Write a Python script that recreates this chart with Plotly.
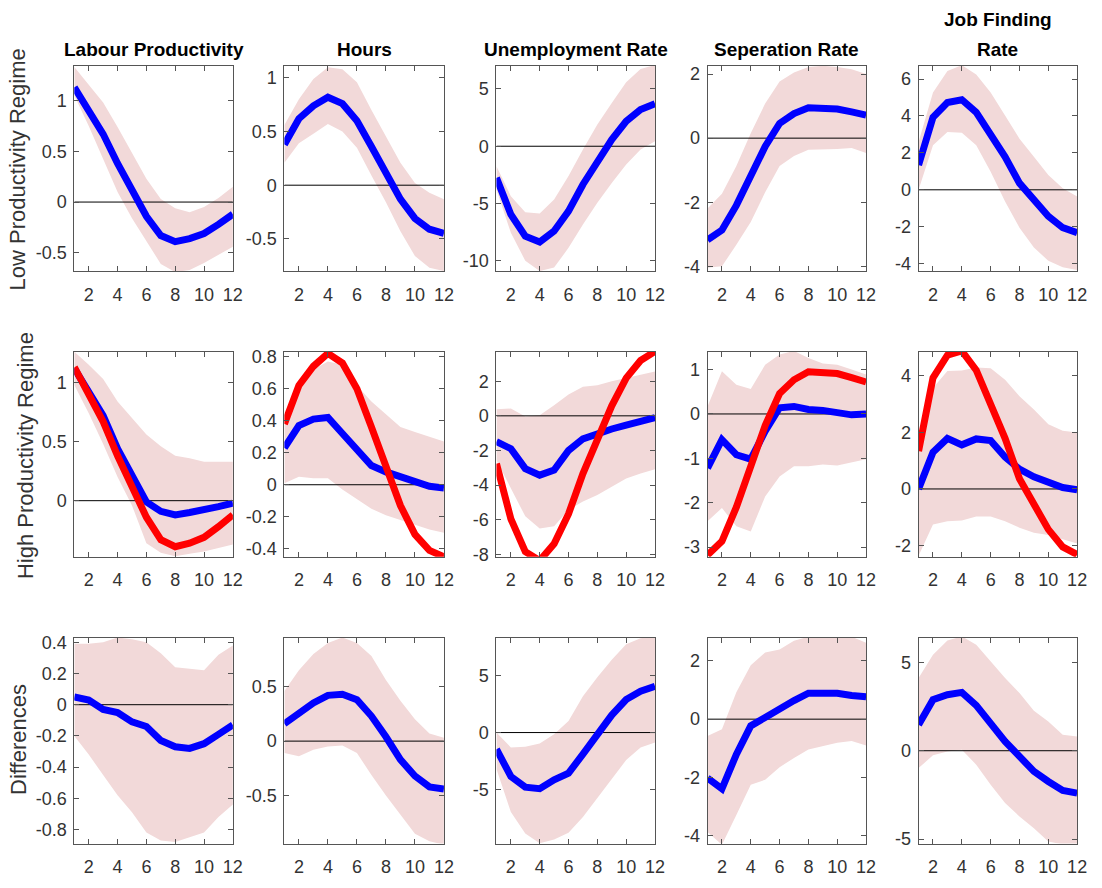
import plotly.graph_objects as go

# ---------------- data ----------------
periods = list(range(1, 13))
xtick_vals = [2, 4, 6, 8, 10, 12]

col_titles = ["Labour Productivity", "Hours", "Unemployment Rate", "Seperation Rate", "Job Finding<br>Rate"]
row_labels = ["Low Productivity Regime", "High Productivity Regime", "Differences"]

# Low productivity regime (row 1, also red overlay in row 2)
low_lp = [1.13, 0.91, 0.67, 0.38, 0.13, -0.14, -0.33, -0.39, -0.36, -0.31, -0.22, -0.12]
low_lp_hi = [1.33, 1.16, 0.98, 0.74, 0.49, 0.23, 0.03, -0.06, -0.10, -0.05, 0.04, 0.15]
low_lp_lo = [1.05, 0.75, 0.42, 0.10, -0.16, -0.39, -0.61, -0.69, -0.67, -0.60, -0.52, -0.44]

low_hours = [0.38, 0.62, 0.74, 0.82, 0.76, 0.60, 0.36, 0.12, -0.13, -0.31, -0.41, -0.45]
low_hours_hi = [0.56, 0.80, 0.99, 1.10, 1.08, 0.96, 0.70, 0.45, 0.21, 0.02, -0.07, -0.13]
low_hours_lo = [0.21, 0.39, 0.48, 0.57, 0.50, 0.35, 0.09, -0.16, -0.43, -0.66, -0.77, -0.80]

low_unemp = [-2.76, -5.96, -7.85, -8.37, -7.40, -5.67, -3.34, -1.40, 0.58, 2.18, 3.20, 3.72]
low_unemp_hi = [-1.74, -4.36, -5.76, -5.87, -4.65, -2.60, -0.29, 1.89, 3.78, 5.58, 6.74, 7.10]
low_unemp_lo = [-3.78, -7.56, -10.0, -10.9, -10.6, -8.87, -6.83, -4.94, -3.20, -1.60, -0.29, 0.44]

low_sep = [-3.18, -2.87, -2.10, -1.18, -0.26, 0.46, 0.77, 0.95, 0.94, 0.91, 0.82, 0.72]
low_sep_hi = [-2.20, -1.74, -0.87, 0.15, 1.08, 1.77, 2.05, 2.22, 2.26, 2.22, 2.15, 2.00]
low_sep_lo = [-4.05, -4.00, -3.33, -2.62, -1.69, -0.87, -0.56, -0.36, -0.34, -0.34, -0.31, -0.46]

low_jfr = [1.34, 3.93, 4.73, 4.88, 4.20, 3.04, 1.79, 0.36, -0.59, -1.43, -2.05, -2.32]
low_jfr_hi = [2.59, 5.27, 6.43, 6.75, 6.25, 5.27, 4.02, 2.77, 1.79, 0.80, 0.09, -0.36]
low_jfr_lo = [0.00, 2.41, 3.13, 3.09, 2.41, 0.98, -0.63, -2.05, -3.13, -3.84, -4.20, -4.34]

# High productivity regime (row 2)
high_lp = [1.12, 0.92, 0.72, 0.44, 0.22, -0.01, -0.09, -0.12, -0.10, -0.08, -0.05, -0.02]
high_lp_hi = [1.26, 1.15, 1.03, 0.84, 0.70, 0.56, 0.46, 0.38, 0.36, 0.33, 0.33, 0.33]
high_lp_lo = [0.98, 0.74, 0.48, 0.20, -0.04, -0.36, -0.44, -0.47, -0.45, -0.43, -0.40, -0.37]

high_hours = [0.23, 0.37, 0.41, 0.42, 0.32, 0.22, 0.12, 0.08, 0.05, 0.02, -0.01, -0.02]
high_hours_hi = [0.39, 0.59, 0.72, 0.77, 0.75, 0.62, 0.52, 0.44, 0.36, 0.33, 0.30, 0.27]
high_hours_lo = [0.01, 0.05, 0.04, 0.04, -0.03, -0.09, -0.15, -0.19, -0.22, -0.25, -0.28, -0.30]

high_unemp = [-1.49, -1.90, -3.05, -3.43, -3.14, -2.00, -1.33, -1.01, -0.76, -0.53, -0.34, -0.10]
high_unemp_hi = [0.38, 0.42, -0.04, 0.04, 0.61, 1.24, 1.68, 1.77, 2.00, 2.19, 2.38, 2.57]
high_unemp_lo = [-2.57, -4.19, -5.81, -6.51, -6.38, -5.43, -4.95, -4.57, -4.10, -3.62, -3.33, -3.09]

high_sep = [-1.22, -0.58, -0.92, -1.02, -0.39, 0.14, 0.17, 0.10, 0.08, 0.02, -0.02, 0.00]
high_sep_hi = [0.17, 0.96, 0.66, 0.56, 1.11, 1.34, 1.42, 1.26, 1.14, 1.11, 1.00, 0.89]
high_sep_lo = [-2.42, -2.12, -2.53, -2.65, -1.86, -1.41, -1.18, -1.18, -1.14, -1.16, -1.09, -1.02]

high_jfr = [0.00, 1.30, 1.79, 1.56, 1.77, 1.71, 1.13, 0.70, 0.43, 0.22, 0.05, -0.03]
high_jfr_hi = [1.50, 3.57, 4.17, 4.19, 4.30, 4.27, 3.86, 3.28, 2.81, 2.29, 2.06, 2.00]
high_jfr_lo = [-2.36, -1.26, -1.14, -1.12, -0.97, -0.97, -1.14, -1.37, -1.55, -1.63, -1.78, -1.93]

# Differences (row 3)
diff_lp = [0.05, 0.03, -0.03, -0.05, -0.11, -0.14, -0.23, -0.27, -0.28, -0.25, -0.19, -0.13]
diff_lp_hi = [0.39, 0.39, 0.40, 0.43, 0.42, 0.40, 0.33, 0.24, 0.23, 0.22, 0.32, 0.38]
diff_lp_lo = [-0.20, -0.32, -0.45, -0.58, -0.69, -0.82, -0.87, -0.88, -0.85, -0.82, -0.72, -0.64]

diff_hours = [0.16, 0.25, 0.35, 0.42, 0.43, 0.38, 0.23, 0.04, -0.17, -0.32, -0.42, -0.44]
diff_hours_hi = [0.46, 0.65, 0.80, 0.90, 0.95, 0.90, 0.78, 0.56, 0.37, 0.20, 0.07, 0.03]
diff_hours_lo = [-0.11, -0.14, -0.08, -0.05, -0.04, -0.11, -0.31, -0.50, -0.68, -0.85, -0.92, -0.95]

diff_unemp = [-1.45, -3.84, -4.77, -4.91, -4.13, -3.55, -1.88, -0.09, 1.53, 2.89, 3.61, 4.05]
diff_unemp_hi = [0.00, -1.30, -1.24, -0.95, -0.14, 1.01, 3.18, 4.83, 6.36, 7.72, 8.24, 8.40]
diff_unemp_lo = [-3.18, -6.94, -8.82, -9.68, -9.34, -8.76, -7.37, -5.64, -4.05, -2.40, -1.30, -0.87]

diff_sep = [-2.02, -2.39, -1.21, -0.23, 0.06, 0.38, 0.64, 0.89, 0.89, 0.89, 0.81, 0.77]
diff_sep_hi = [-0.58, -0.35, 0.92, 1.85, 2.29, 2.39, 2.69, 2.83, 2.87, 2.89, 2.83, 2.62]
diff_sep_lo = [-3.87, -4.31, -3.29, -2.25, -2.08, -1.65, -1.33, -1.04, -0.92, -0.81, -0.75, -0.90]

diff_jfr = [1.47, 2.89, 3.17, 3.30, 2.57, 1.47, 0.53, -0.32, -1.17, -1.74, -2.25, -2.40]
diff_jfr_hi = [4.11, 5.43, 6.23, 6.47, 6.00, 5.06, 4.11, 3.26, 2.26, 1.66, 0.91, 0.81]
diff_jfr_lo = [-0.98, -0.26, -0.04, 0.06, -0.79, -1.92, -2.96, -3.72, -4.38, -5.13, -5.30, -5.30]

# y tick values per panel
yticks = [
    [[-0.5, 0, 0.5, 1], [-0.5, 0, 0.5, 1], [-10, -5, 0, 5], [-4, -2, 0, 2], [-4, -2, 0, 2, 4, 6]],
    [[0, 0.5, 1], [-0.4, -0.2, 0, 0.2, 0.4, 0.6, 0.8], [-8, -6, -4, -2, 0, 2], [-3, -2, -1, 0, 1], [-2, 0, 2, 4]],
    [[-0.8, -0.6, -0.4, -0.2, 0, 0.2, 0.4], [-0.5, 0, 0.5], [-5, 0, 5], [-4, -2, 0, 2], [-5, 0, 5]],
]

# ---------------- layout settings ----------------
yranges = [
    [[-0.68, 1.34], [-0.80, 1.11], [-10.9, 7.0], [-4.15, 2.25], [-4.4, 6.7]],
    [[-0.475, 1.26], [-0.45, 0.83], [-8.15, 3.7], [-3.22, 1.4], [-2.4, 4.85]],
    [[-0.89, 0.43], [-0.94, 0.95], [-9.7, 8.3], [-4.27, 2.8], [-5.25, 6.4]],
]
W, H = 1102, 888
col_px = [(75, 235), (287, 448), (501, 661), (714, 874), (927, 1087)]
row_px = [(62, 270), (352, 560), (642, 851)]

blue_rows = [
    [low_lp, low_hours, low_unemp, low_sep, low_jfr],
    [high_lp, high_hours, high_unemp, high_sep, high_jfr],
    [diff_lp, diff_hours, diff_unemp, diff_sep, diff_jfr],
]
hi_rows = [
    [low_lp_hi, low_hours_hi, low_unemp_hi, low_sep_hi, low_jfr_hi],
    [high_lp_hi, high_hours_hi, high_unemp_hi, high_sep_hi, high_jfr_hi],
    [diff_lp_hi, diff_hours_hi, diff_unemp_hi, diff_sep_hi, diff_jfr_hi],
]
lo_rows = [
    [low_lp_lo, low_hours_lo, low_unemp_lo, low_sep_lo, low_jfr_lo],
    [high_lp_lo, high_hours_lo, high_unemp_lo, high_sep_lo, high_jfr_lo],
    [diff_lp_lo, diff_hours_lo, diff_unemp_lo, diff_sep_lo, diff_jfr_lo],
]
red_row2 = [low_lp, low_hours, low_unemp, low_sep, low_jfr]

FONT = "Liberation Sans, Arial, sans-serif"
BAND = "rgb(242,217,217)"
AXC = "#555555"
TXT = "#333333"


def fmt(v):
    return "%g" % v  # hyphen minus, MATLAB style


fig = go.Figure()
layout = {}
for r in range(3):
    for c in range(5):
        idx = r * 5 + c + 1
        xs = "x" if idx == 1 else f"x{idx}"
        ys = "y" if idx == 1 else f"y{idx}"
        band_x = periods + periods[::-1]
        band_y = hi_rows[r][c] + lo_rows[r][c][::-1]
        fig.add_trace(go.Scatter(x=band_x, y=band_y, fill="toself", fillcolor=BAND,
                                 line=dict(width=0), mode="lines", hoverinfo="skip",
                                 showlegend=False, xaxis=xs, yaxis=ys))
        fig.add_trace(go.Scatter(x=[periods[0], periods[-1]], y=[0, 0], mode="lines",
                                 line=dict(color="black", width=1), hoverinfo="skip",
                                 showlegend=False, xaxis=xs, yaxis=ys))
        fig.add_trace(go.Scatter(x=periods, y=blue_rows[r][c], mode="lines",
                                 line=dict(color="#0000ff", width=7),
                                 showlegend=False, xaxis=xs, yaxis=ys))
        if r == 1:
            fig.add_trace(go.Scatter(x=periods, y=red_row2[c], mode="lines",
                                     line=dict(color="#ff0000", width=7),
                                     showlegend=False, xaxis=xs, yaxis=ys))
        x0, x1 = col_px[c]
        y0, y1 = row_px[r]
        common = dict(ticks="inside", ticklen=5, tickwidth=1, tickcolor=AXC,
                      showline=True, linecolor=AXC, linewidth=1, mirror="ticks",
                      showgrid=False, zeroline=False,
                      tickfont=dict(family=FONT, size=18, color=TXT))
        layout["xaxis" if idx == 1 else f"xaxis{idx}"] = dict(
            domain=[x0 / W, x1 / W], range=[periods[0], periods[-1]],
            tickvals=xtick_vals, ticktext=[fmt(v) for v in xtick_vals],
            ticklabelstandoff=7, anchor=ys, **common)
        layout["yaxis" if idx == 1 else f"yaxis{idx}"] = dict(
            domain=[1 - y1 / H, 1 - y0 / H], range=yranges[r][c],
            tickvals=yticks[r][c], ticktext=[fmt(v) for v in yticks[r][c]],
            ticklabelstandoff=3, anchor=xs, **common)

annotations = []
for c, t in enumerate(col_titles):
    x0, x1 = col_px[c]
    lines = t.split("<br>")
    n = len(lines)
    for k, line in enumerate(lines):
        yc = 45 - (n - 1 - k) * 30
        annotations.append(dict(text=f"<b>{line}</b>", x=(x0 + x1) / 2 / W, y=1 - yc / H,
                                xref="paper", yref="paper", xanchor="center", yanchor="middle",
                                showarrow=False, font=dict(family=FONT, size=19, color="black")))
label_pos = [(18, 167), (26, 457), (18, 745)]
for r, t in enumerate(row_labels):
    lx, ly = label_pos[r]
    annotations.append(dict(text=t, x=lx / W, y=1 - ly / H, xref="paper", yref="paper",
                            xanchor="center", yanchor="middle", textangle=-90,
                            showarrow=False, font=dict(family=FONT, size=22, color=TXT)))

fig.update_layout(width=W, height=H, margin=dict(l=0, r=0, t=0, b=0),
                  paper_bgcolor="white", plot_bgcolor="white",
                  annotations=annotations, showlegend=False, **layout)
fig.write_html("out.html")
